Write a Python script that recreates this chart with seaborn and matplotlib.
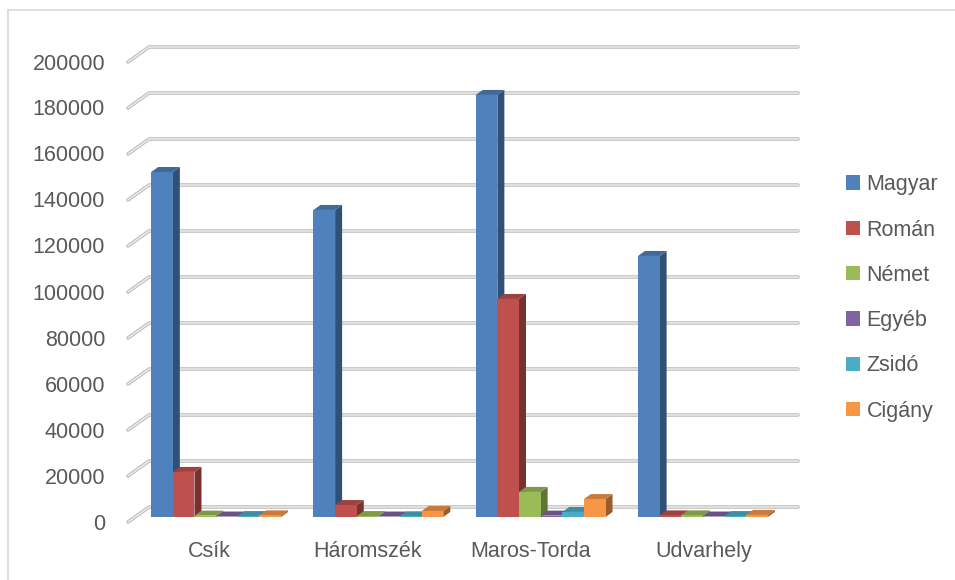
import numpy as np
import pandas as pd
import matplotlib
matplotlib.use("Agg")
import matplotlib.pyplot as plt
import matplotlib.colors as mcolors
from matplotlib.patches import Polygon, Patch
from matplotlib.lines import Line2D
import seaborn as sns

counties = ["Csík", "Háromszék", "Maros-Torda", "Udvarhely"]
groups = ["Magyar", "Román", "Német", "Egyéb", "Zsidó", "Cigány"]
magyar = [150000, 133500, 183500, 113500]
roman = [19600, 5200, 94800, 700]
nemet = [600, 400, 10900, 700]
egyeb = [200, 200, 600, 200]
zsido = [400, 300, 2200, 400]
cigany = [700, 2600, 7800, 900]
colors = ["#4F81BD", "#C0504D", "#9BBB59", "#8064A2", "#4BACC6", "#F79646"]
yticks = list(range(0, 200001, 20000))

df = pd.DataFrame({
    "megye": counties * 6,
    "csoport": np.repeat(groups, 4),
    "fo": magyar + roman + nemet + egyeb + zsido + cigany,
})

sns.set_theme(style="white")
plt.rcParams['font.family'] = ['Liberation Sans', 'DejaVu Sans']
TXT = "#595959"
FS = 15.5

W, H = 955, 580
fig = plt.figure(figsize=(W / 100, H / 100), dpi=100)
# plot plane of the bars: x -0.5..3.5 -> px 135..784, y 0..200000 -> px 517..57
ax = fig.add_axes([135 / W, (H - 517) / H, 649 / W, 460 / H])

sns.barplot(data=df, x="megye", y="fo", hue="csoport", hue_order=groups,
            palette=colors, saturation=1, width=0.8, ax=ax, legend=False,
            linewidth=0, edgecolor="none")
ax.set_xlim(-0.5, 3.5)
ax.set_ylim(0, 200000)
for s in ax.spines.values():
    s.set_visible(False)
ax.set_xticks([])
ax.set_yticks([])
ax.set_xlabel("")
ax.set_ylabel("")
ax.patch.set_alpha(0)

# pixel -> data conversion
pxx = 649 / 4.0
pxy = 460 / 200000.0

def px(dx, dy):
    return dx / pxx, dy / pxy

# back-wall gridlines with diagonal on the left
fdx, fdy = px(-7, -5)
bdx, bdy = px(14, 10)
for t in yticks:
    xs = [-0.5 + fdx, -0.5 + bdx, 3.5 + bdx]
    ys = [t + fdy, t + bdy, t + bdy]
    ax.plot(xs, ys, color="#bfbfbf", lw=2.6, solid_capstyle="round", zorder=1, clip_on=False)
    ax.plot(xs, ys, color="#ededed", lw=1.0, solid_capstyle="round", zorder=1.1, clip_on=False)

# 3D faces on the bars
sdx, sdy = px(7, 5)
for j, cont in enumerate(ax.containers):
    base = mcolors.to_rgb(colors[j])
    side = tuple(c * 0.62 for c in base)
    top = tuple(c * 0.82 for c in base)
    for bar in cont:
        z = 3 + j * 0.1
        bar.set_zorder(z)
        x0, w, h = bar.get_x(), bar.get_width(), bar.get_height()
        x1 = x0 + w
        ax.add_patch(Polygon([(x1, 0), (x1 + sdx, sdy), (x1 + sdx, h + sdy), (x1, h)],
                             closed=True, facecolor=side, edgecolor="none", zorder=z - 0.01,
                             clip_on=False))
        ax.add_patch(Polygon([(x0, h), (x1, h), (x1 + sdx, h + sdy), (x0 + sdx, h + sdy)],
                             closed=True, facecolor=top, edgecolor="none", zorder=z - 0.01,
                             clip_on=False))

# y tick labels (front plane)
for t in yticks:
    ax.text(-0.5 + px(-30, 0)[0], t + fdy + px(0, -2)[1], f"{t}", ha="right", va="center",
            fontsize=FS, color=TXT, clip_on=False)
# category labels
cat_shift = [0, -4, -3, 8]
for i, c in enumerate(counties):
    ax.text(i + fdx + px(cat_shift[i], 0)[0], -px(0, 24)[1], c, ha="center", va="top",
            fontsize=FS, color=TXT, clip_on=False)

handles = [Patch(facecolor=c, edgecolor="none") for c in colors]
fig.legend(handles, groups, loc="center left", bbox_to_anchor=(846 / W, 1 - 298 / H),
           frameon=False, fontsize=FS, labelcolor=TXT, handlelength=0.65,
           handleheight=0.65, handletextpad=0.3, labelspacing=1.13,
           borderpad=0, borderaxespad=0)

# chart area border
fig.add_artist(Line2D([8 / W, 1.0], [1 - 10 / H, 1 - 10 / H], color="#d9d9d9", lw=1.2))
fig.add_artist(Line2D([8 / W, 8 / W], [0, 1 - 10 / H], color="#d9d9d9", lw=1.2))

fig.savefig("out.png", dpi=100)
